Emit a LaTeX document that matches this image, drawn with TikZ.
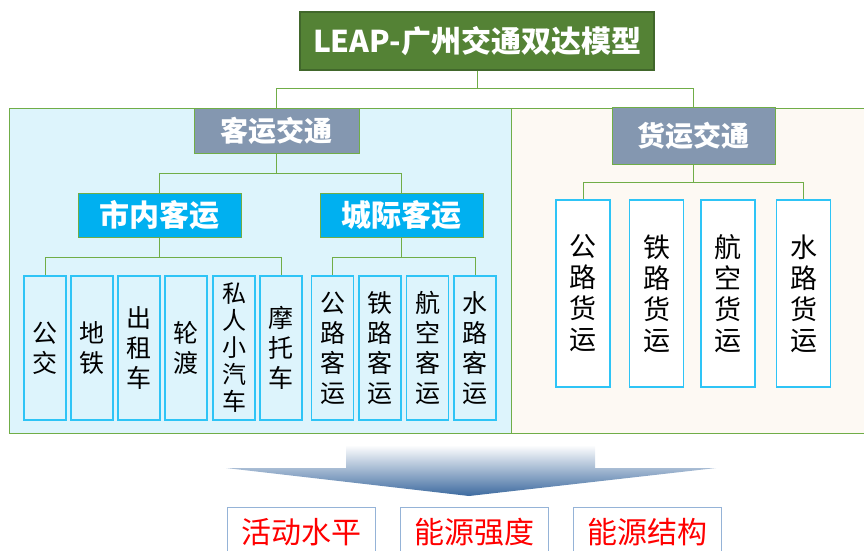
\documentclass[tikz,border=0pt]{standalone}
\usepackage{fontspec}
\newfontfamily\cjk{Noto Sans CJK SC}
\definecolor{titlegreen}{HTML}{548235}
\definecolor{titleedge}{HTML}{41672B}
\definecolor{linegreen}{HTML}{70AD47}
\definecolor{panelblue}{HTML}{DDF4FC}
\definecolor{panelcream}{HTML}{FDF9F3}
\definecolor{slate}{HTML}{8497B0}
\definecolor{skyblue}{HTML}{00B0F0}
\definecolor{leafedge}{HTML}{2EC4F6}
\definecolor{arrowblue}{HTML}{3D6A9F}
\definecolor{labeledge}{HTML}{95B3D7}
\begin{document}
\begin{tikzpicture}[x=1pt, y=-1pt,
    conn/.style={draw=linegreen, line width=0.8pt},
    titlebox/.style={draw=titleedge, fill=titlegreen, line width=1.2pt, text=white, inner sep=0pt,
        font=\cjk\bfseries\fontsize{30}{34}\selectfont},
    groupbox/.style={draw=linegreen, fill=slate, line width=1pt, text=white, inner sep=0pt,
        font=\cjk\bfseries\fontsize{28}{32}\selectfont},
    subbox/.style={draw=linegreen, fill=skyblue, line width=1pt, text=white, inner sep=0pt,
        minimum width=163pt, minimum height=44pt,
        font=\cjk\bfseries\fontsize{30}{34}\selectfont},
    leaf/.style={draw=leafedge, line width=1.2pt, inner sep=0pt, align=center,
        minimum width=42pt, minimum height=144pt,
        font=\cjk\fontsize{25}{30}\selectfont},
    freight/.style={leaf, fill=white, minimum width=54pt, minimum height=187pt,
        font=\cjk\fontsize{27}{31}\selectfont},
    result/.style={draw=labeledge, fill=white, line width=1pt, text=red, inner sep=0pt,
        minimum width=148pt, minimum height=50pt,
        font=\cjk\fontsize{30}{34}\selectfont}]
    \useasboundingbox (0,0) rectangle (864,550);

    % Panels
    \draw[linegreen, fill=panelblue, line width=1pt] (9,108) rectangle (511,433);
    \draw[linegreen, fill=panelcream, line width=1pt] (511,108) rectangle (868,433);

    % Title
    \node[titlebox, minimum width=354pt, minimum height=58pt] (model) at (477,41) {LEAP-广州交通双达模型};
    \node[groupbox, minimum width=165pt, minimum height=45pt] (passenger) at (276.5,130.5) {客运交通};
    \node[groupbox, minimum width=163pt, minimum height=57pt] (cargo) at (693.5,135.5) {货运交通};
    \coordinate (j0) at (477,88);
    \draw[conn] (model.south) -- (j0) -| (passenger.north);
    \draw[conn] (j0) -| (cargo.north);

    % Passenger
    \node[subbox] (urban) at (159.5,215) {市内客运};
    \node[subbox] (intercity) at (401.5,215) {城际客运};
    \coordinate (j1) at (passenger.south |- 0,173);
    \draw[conn] (passenger.south) -- (j1) -| (urban.north);
    \draw[conn] (j1) -| (intercity.north);

    \node[leaf] (bus) at (45,348) {公\\交};
    \node[leaf] (metro) at (92,348) {地\\铁};
    \node[leaf] (taxi) at (139,348) {出\\租\\车};
    \node[leaf] (ferry) at (186,348) {轮\\渡};
    \node[leaf, font=\cjk\fontsize{24}{27}\selectfont] (car) at (234,348) {私\\人\\小\\汽\\车};
    \node[leaf] (moto) at (281,348) {摩\\托\\车};
    \coordinate (j2) at (urban.south |- 0,257);
    \draw[conn] (urban.south) -- (j2) -| (bus.north);
    \draw[conn] (j2) -| (moto.north);

    \node[leaf] (proad) at (332.5,348) {公\\路\\客\\运};
    \node[leaf] (prail) at (380,348) {铁\\路\\客\\运};
    \node[leaf] (pair) at (427.5,348) {航\\空\\客\\运};
    \node[leaf] (pwater) at (475,348) {水\\路\\客\\运};
    \coordinate (j3) at (intercity.south |- 0,257);
    \draw[conn] (intercity.south) -- (j3) -| (proad.north);
    \draw[conn] (j3) -| (pwater.north);

    % Freight
    \node[freight] (froad) at (583,293.5) {公\\路\\货\\运};
    \node[freight] (frail) at (656.5,293.5) {铁\\路\\货\\运};
    \node[freight] (fair) at (728,293.5) {航\\空\\货\\运};
    \node[freight] (fwater) at (803.5,293.5) {水\\路\\货\\运};
    \coordinate (j4) at (cargo.south |- 0,182);
    \draw[conn] (cargo.south) -- (j4) -| (froad.north);
    \draw[conn] (j4) -| (fwater.north);

    % Arrow
    \shade[top color=white, bottom color=arrowblue]
        (346,445) -- (595,445) -- (595,468) -- (716,468) -- (469,496)
        -- (226,468) -- (346,468) -- cycle;

    % Results
    \node[result] (activity) at (301,532) {活动水平};
    \node[result] (intensity) at (474,532) {能源强度};
    \node[result] (structure) at (647,532) {能源结构};
\end{tikzpicture}
\end{document}
